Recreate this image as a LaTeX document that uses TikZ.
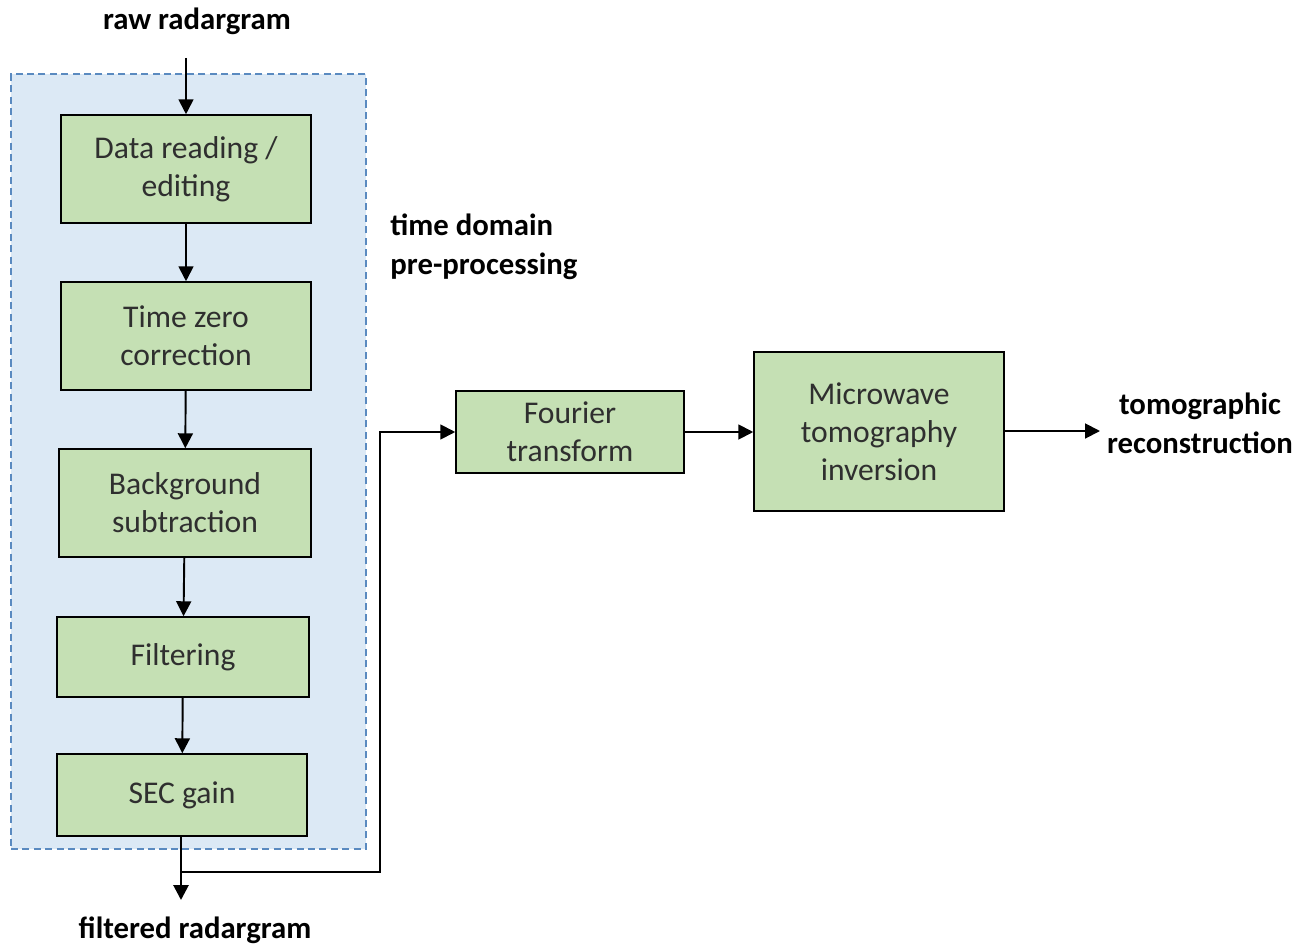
\documentclass[tikz,border=0pt]{standalone}
\usepackage{fontspec}
\setmainfont{Carlito}
\usepackage{tikz}
\usetikzlibrary{arrows.meta}

\definecolor{boxgreen}{HTML}{C5E0B4}
\definecolor{panelblue}{HTML}{DCE9F5}
\definecolor{paneledge}{HTML}{5A8AC0}
\definecolor{boxtext}{HTML}{2F2F2F}

\begin{document}
\begin{tikzpicture}[x=0.02cm,y=-0.02cm,
    stage/.style={rectangle,draw=black,line width=0.9pt,fill=boxgreen,text=boxtext,
        align=center,inner sep=0pt,font=\fontsize{18}{21.6}\selectfont},
    tag/.style={align=center,font=\fontsize{17.5}{22}\selectfont\bfseries},
    flow/.style={line width=1.1pt,-{Triangle[length=8.5pt,width=8.5pt]}}]
    \useasboundingbox (0,0) rectangle (1309,946);
    % pre-processing panel
    \node[draw=paneledge,dash pattern=on 4pt off 2.5pt,fill=panelblue,line width=0.7pt,minimum width=7.1cm,minimum height=15.5cm] (panel) at (188.5,461.5) {};
    \node[stage,minimum width=5cm,minimum height=2.16cm] (read) at (186,169) {Data reading /\\editing};
    \node[stage,minimum width=5cm,minimum height=2.16cm] (zero) at (186,336) {Time zero\\correction};
    \node[stage,minimum width=5.04cm,minimum height=2.16cm] (back) at (185,503) {Background\\subtraction};
    \node[stage,minimum width=5.04cm,minimum height=1.6cm] (filt) at (183,657) {Filtering};
    \node[stage,minimum width=5cm,minimum height=1.64cm] (sec) at (182,795) {SEC gain};
    \node[stage,minimum width=4.56cm,minimum height=1.64cm] (fourier) at (570,432) {Fourier\\transform};
    \node[stage,minimum width=5cm,minimum height=3.18cm] (micro) at (879,431.5) {Microwave\\tomography\\inversion};
    % labels
    \node[tag] (raw) at (197,21) {raw radargram};
    \node[tag,align=left] (tdp) at (484,247) {time domain\\pre-processing};
    \node[tag] (filtered) at (195,930) {filtered radargram};
    \node[tag] (tomo) at (1200,423) {tomographic\\reconstruction};
    \coordinate (rawend) at (186,58);
    \coordinate (filtend) at (181,900);
    \coordinate (split) at (181,872);
    \coordinate (bend) at (380,872);
    \coordinate (outend) at (1100,431);
    % connectors
    \draw[flow] (rawend) -- (read.north);
    \draw[flow] (read) -- (zero);
    \draw[flow] (zero) -- (back);
    \draw[flow] (back) -- (filt);
    \draw[flow] (filt) -- (sec);
    \draw[flow,line width=1.6pt] (sec.south -| filtend) -- (filtend);
    \draw[line width=1.6pt] (split) -- (350,872);
    \draw[flow] (350,872) -- (bend) |- (fourier.west);
    \draw[flow] (fourier) -- (micro.west |- fourier.east);
    \draw[flow] (micro.east |- outend) -- (outend);
\end{tikzpicture}
\end{document}
